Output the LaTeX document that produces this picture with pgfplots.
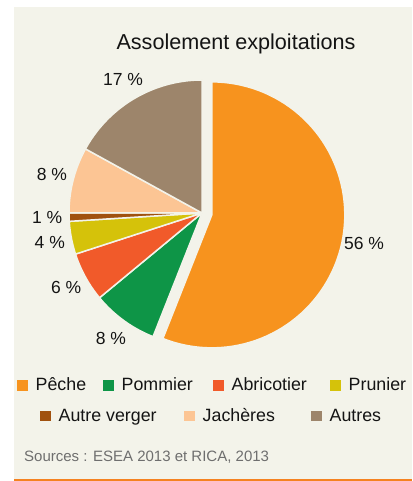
\documentclass[border=0pt]{standalone}
\usepackage{fontspec}
\setmainfont{Liberation Sans}
\usepackage{pgfplots}
\usepackage{pgfplotstable}
\pgfplotsset{compat=1.18}
\definecolor{bg}{HTML}{F3F3EA}
\definecolor{cpeche}{HTML}{F7931E}
\definecolor{cpommier}{HTML}{0E9547}
\definecolor{cabricot}{HTML}{F15A2A}
\definecolor{cprunier}{HTML}{D5C20A}
\definecolor{cautre}{HTML}{A0510F}
\definecolor{cjach}{HTML}{FCC594}
\definecolor{cautres}{HTML}{9D856B}
\definecolor{cline}{HTML}{F58220}
\definecolor{csrc}{HTML}{6E6E6E}
\definecolor{ctxt}{HTML}{141414}

% name, share (%), colour, legend square x, legend baseline y
\pgfplotstableread{
name value col lgx lgy
Pêche 56 cpeche 17 90
Pommier 8 cpommier 103 90
Abricotier 6 cabricot 213 90
Prunier 4 cprunier 330 90
{Autre verger} 1 cautre 40 59.5
Jachères 8 cjach 184 59.5
Autres 17 cautres 311 59.5
}\datatable

\newcommand\lblfont{\fontsize{17.5}{20}\selectfont}
\newcommand\legfont{\fontsize{17.8}{20}\selectfont}

\begin{document}
\begin{tikzpicture}
\begin{axis}[
  width=412pt, height=481pt, scale only axis,
  xmin=0, xmax=412, ymin=0, ymax=481,
  hide axis, clip=false,
]
\fill[white] (axis cs:0,0) rectangle (axis cs:412,481);
\fill[bg] (axis cs:14,2) rectangle (axis cs:412,474);
\fill[cline] (axis cs:14,0) rectangle (axis cs:412,2.2);

\node[anchor=base, text=ctxt, font=\fontsize{21.6}{24}\selectfont, inner sep=0pt]
  at (axis cs:236,431) {Assolement exploitations};
\node[anchor=base west, text=csrc, font=\fontsize{15}{18}\selectfont, inner sep=0pt]
  at (axis cs:24,19.5) {Sources : ESEA 2013 et RICA, 2013};

\def\cum{0}
\pgfplotsforeachungrouped \i in {0,...,6}{%
  \pgfplotstablegetelem{\i}{value}\of\datatable \let\val\pgfplotsretval
  \pgfplotstablegetelem{\i}{col}\of\datatable \let\col\pgfplotsretval
  \pgfplotstablegetelem{\i}{name}\of\datatable \let\nm\pgfplotsretval
  \pgfplotstablegetelem{\i}{lgx}\of\datatable \let\lgx\pgfplotsretval
  \pgfplotstablegetelem{\i}{lgy}\of\datatable \let\lgy\pgfplotsretval
  \pgfmathsetmacro\aS{90-3.6*\cum}%
  \pgfmathsetmacro\aE{90-3.6*(\cum+\val)}%
  \pgfmathsetmacro\aM{(\aS+\aE)/2}%
  \ifnum\i=0 \def\dd{10}\else\def\dd{0}\fi
  \pgfmathsetmacro\ox{202+\dd*cos(\aM)}%
  \pgfmathsetmacro\oy{268+\dd*sin(\aM)}%
  \pgfmathsetmacro\lx{\ox+155*cos(\aM)}%
  \pgfmathsetmacro\ly{\oy+155*sin(\aM)}%
  \pgfmathsetmacro\sqx{\lgx+10.5}%
  \pgfmathsetmacro\sqy{\lgy+10.5}%
  \pgfmathsetmacro\tx{\lgx+18.5}%
  \edef\doplot{%
    \noexpand\addplot[fill=\col, draw=bg, line width=1.5pt, line join=round,
      domain=\aE:\aS, samples=80]
      ({\ox+133*cos(x)},{\oy+133*sin(x)}) -- (axis cs:\ox,\oy) -- cycle;
    \noexpand\node[text=ctxt, font=\noexpand\lblfont, inner sep=0pt]
      at (axis cs:\lx,\ly) {\val\space\noexpand\%};
    \noexpand\fill[\col] (axis cs:\lgx,\lgy) rectangle (axis cs:\sqx,\sqy);
    \noexpand\node[anchor=base west, text=ctxt, font=\noexpand\legfont, inner sep=0pt]
      at (axis cs:\tx,\lgy) {\nm};
  }%
  \doplot
  \pgfmathsetmacro\cum{\cum+\val}%
}
\end{axis}
\end{tikzpicture}
\end{document}
